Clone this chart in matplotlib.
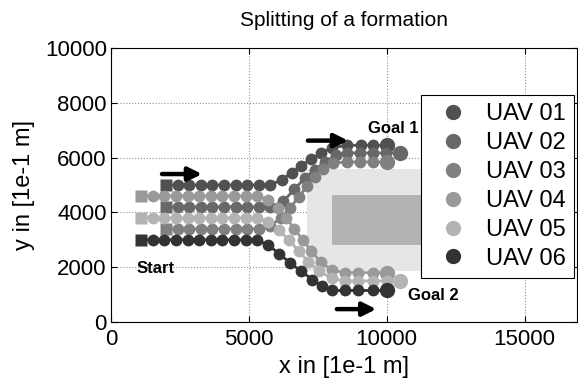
import matplotlib
matplotlib.use('Agg')
import matplotlib.pyplot as plt
from matplotlib.lines import Line2D
from matplotlib.patches import Rectangle

plt.rcParams['font.family'] = ['Liberation Sans', 'DejaVu Sans']

# trajectories in [1e-1 m]
uav01_x = [2000, 2420, 2840, 3260, 3680, 4100, 4520, 4940, 5360, 5780,
           6200, 6550, 6900, 7250, 7600, 8000, 8550, 9050, 9500, 10000]
uav01_y = [5000, 5000, 5000, 5000, 5000, 5000, 5000, 5000, 5000, 5000,
           5200, 5450, 5700, 5950, 6150, 6350, 6450, 6450, 6450, 6450]

uav02_x = [2000, 2420, 2840, 3260, 3680, 4100, 4520, 4940, 5360, 5780,
           6250, 6650, 7030, 7390, 7750, 8150, 8550, 9020, 9490, 9960, 10470]
uav02_y = [4200, 4200, 4200, 4200, 4200, 4200, 4200, 4200, 4200, 4200,
           4400, 4850, 5250, 5550, 5850, 6080, 6170, 6170, 6170, 6170, 6170]

uav03_x = [2000, 2420, 2840, 3260, 3680, 4100, 4520, 4940, 5360,
           5780, 6150, 6480, 6800, 7100, 7400, 7700, 8040, 8550, 9020, 9490, 10000]
uav03_y = [3400, 3400, 3400, 3400, 3400, 3400, 3400, 3400, 3400,
           3500, 3800, 4150, 4550, 4950, 5300, 5600, 5800, 5840, 5840, 5840, 5840]

uav04_x = [1100, 1520, 1940, 2360, 2780, 3200, 3620, 4040, 4460, 4880, 5300,
           5700, 6050, 6350, 6650, 6950, 7250, 7600, 8000, 8480, 8950, 9490, 10000]
uav04_y = [4600, 4600, 4600, 4600, 4600, 4600, 4600, 4600, 4600, 4600, 4600,
           4450, 4150, 3800, 3400, 3000, 2600, 2200, 1900, 1800, 1800, 1800, 1800]

uav05_x = [1100, 1520, 1940, 2360, 2780, 3200, 3620, 4040, 4460, 4880, 5300,
           5700, 6080, 6450, 6800, 7150, 7550, 8000, 8480, 8950, 9490, 10000, 10470]
uav05_y = [3800, 3800, 3800, 3800, 3800, 3800, 3800, 3800, 3800, 3800, 3800,
           3650, 3350, 3000, 2600, 2200, 1850, 1600, 1500, 1500, 1500, 1500, 1500]

uav06_x = [1100, 1520, 1940, 2360, 2780, 3200, 3620, 4040, 4460, 4880, 5300,
           5700, 6100, 6500, 6900, 7300, 7650, 8010, 8480, 8950, 9490, 10000]
uav06_y = [3000, 3000, 3000, 3000, 3000, 3000, 3000, 3000, 3000, 3000, 3000,
           2800, 2500, 2150, 1850, 1550, 1300, 1150, 1150, 1150, 1150, 1150]

labels = ['UAV 01', 'UAV 02', 'UAV 03', 'UAV 04', 'UAV 05', 'UAV 06']
colors = ['#505050', '#686868', '#808080', '#999999', '#b3b3b3', '#333333']
paths = [(uav01_x, uav01_y), (uav02_x, uav02_y), (uav03_x, uav03_y),
         (uav04_x, uav04_y), (uav05_x, uav05_y), (uav06_x, uav06_y)]

# obstacle areas (x, y, width, height), right part hidden by the legend
safety_zone = (7100, 1870, 5500, 3720)
obstacle = (8020, 2810, 5000, 1830)

fig = plt.figure(figsize=(5.78, 3.83), dpi=100)
ax = fig.add_axes([111/578, 61/383, 466/578, 274/383])

ax.add_patch(Rectangle(safety_zone[:2], safety_zone[2], safety_zone[3],
                       facecolor='#e6e6e6', edgecolor='none', zorder=1))
ax.add_patch(Rectangle(obstacle[:2], obstacle[2], obstacle[3],
                       facecolor='#b3b3b3', edgecolor='none', zorder=1))

for (px, py), c in zip(paths, colors):
    ax.plot(px, py, '-', color=c, lw=2, zorder=2)
    ax.plot(px[1:-1], py[1:-1], 'o', color=c, ms=8.5, mec='none', zorder=3)
    ax.plot(px[:1], py[:1], 's', color=c, ms=8, mec='none', zorder=3)
    ax.plot(px[-1:], py[-1:], 'o', color=c, ms=11, mec='none', zorder=3)

arrow = dict(arrowstyle='-|>', color='k', lw=3.2, mutation_scale=20,
             shrinkA=0, shrinkB=0)
ax.annotate('', xy=(3300, 5400), xytext=(1850, 5400), arrowprops=arrow, zorder=5)
ax.annotate('', xy=(8600, 6620), xytext=(7140, 6620), arrowprops=arrow, zorder=5)
ax.annotate('', xy=(9620, 470), xytext=(8190, 470), arrowprops=arrow, zorder=5)

ax.text(1600, 1970, 'Start', fontsize=12, fontweight='bold',
        ha='center', va='center', zorder=6)
ax.text(10250, 7050, 'Goal 1', fontsize=12, fontweight='bold',
        ha='center', va='center', zorder=6)
ax.text(11700, 950, 'Goal 2', fontsize=12, fontweight='bold',
        ha='center', va='center', zorder=6)

ax.set_xlim(0, 16900)
ax.set_ylim(0, 10000)
ax.set_xticks([0, 5000, 10000, 15000])
ax.set_yticks([0, 2000, 4000, 6000, 8000, 10000])
ax.tick_params(direction='in', top=True, right=True, labelsize=16,
               length=4, width=0.8)
ax.tick_params(axis='x', pad=5)
ax.tick_params(axis='y', pad=3)
ax.grid(True, linestyle=':', color='#909090', lw=0.8)
ax.set_axisbelow(True)
for sp in ax.spines.values():
    sp.set_linewidth(0.8)

ax.set_xlabel('x in [1e-1 m]', fontsize=17, labelpad=4)
ax.set_ylabel('y in [1e-1 m]', fontsize=17, labelpad=7)
ax.set_title('Splitting of a formation', fontsize=15, pad=16)

handles = [Line2D([], [], ls='none', marker='o', color=c, ms=11, mec='none')
           for c in colors]
leg = ax.legend(handles, labels, loc='upper right', bbox_to_anchor=(0.994, 0.828),
                fontsize=17, frameon=True, fancybox=False, framealpha=1,
                edgecolor='k', handletextpad=0.4, labelspacing=0.29,
                borderpad=0.35, handlelength=2.0, borderaxespad=0)
leg.get_frame().set_linewidth(0.8)
leg.set_zorder(10)

fig.savefig('out.png', dpi=100)
